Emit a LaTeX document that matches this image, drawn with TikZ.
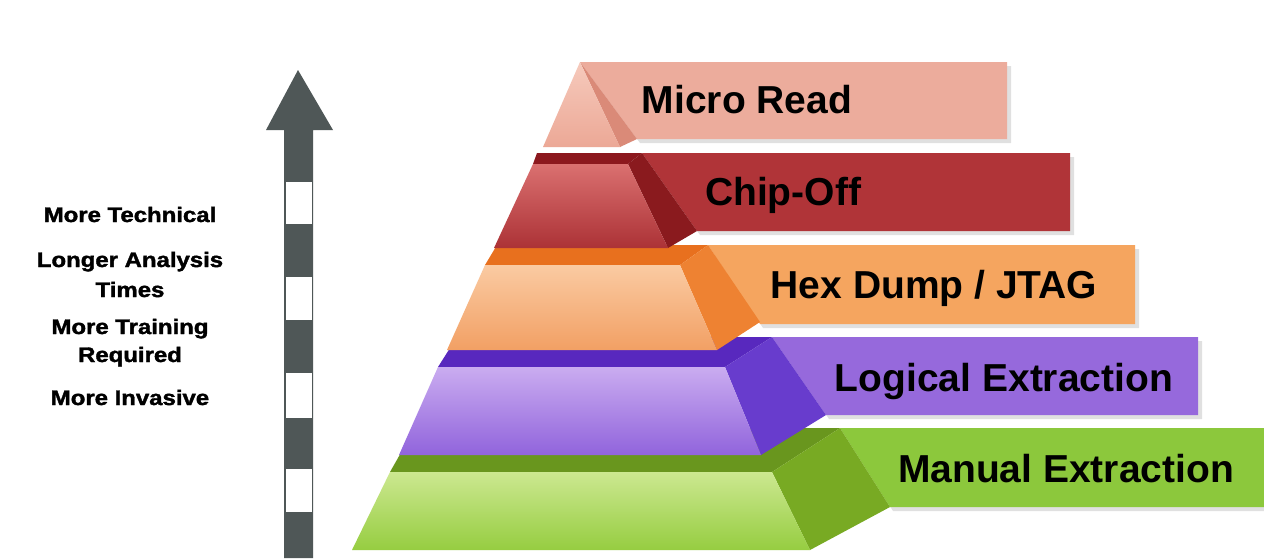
\documentclass[tikz,border=0pt]{standalone}
\usepackage{fontspec}
\setmainfont{Liberation Sans}
\newfontfamily\heavyfont[FakeBold=1.6]{Liberation Sans}
\definecolor{arrowgray}{RGB}{79,87,87}
\definecolor{mrBan}{RGB}{236,172,156}
\definecolor{mrFrT}{RGB}{246,202,188}
\definecolor{mrFrB}{RGB}{236,168,150}
\definecolor{mrSide}{RGB}{218,138,120}
\definecolor{coBan}{RGB}{176,52,56}
\definecolor{coFrT}{RGB}{218,112,112}
\definecolor{coFrB}{RGB}{172,50,54}
\definecolor{coTop}{RGB}{140,24,30}
\definecolor{coSide}{RGB}{138,26,30}
\definecolor{hxBan}{RGB}{245,165,95}
\definecolor{hxFrT}{RGB}{250,202,162}
\definecolor{hxFrB}{RGB}{242,160,100}
\definecolor{hxTop}{RGB}{232,112,30}
\definecolor{hxSide}{RGB}{238,130,50}
\definecolor{leBan}{RGB}{150,105,220}
\definecolor{leFrT}{RGB}{202,172,240}
\definecolor{leFrB}{RGB}{145,100,220}
\definecolor{leTop}{RGB}{88,40,190}
\definecolor{leSide}{RGB}{104,60,205}
\definecolor{meBan}{RGB}{140,200,60}
\definecolor{meFrT}{RGB}{204,232,144}
\definecolor{meFrB}{RGB}{150,205,65}
\definecolor{meTop}{RGB}{105,150,30}
\definecolor{meSide}{RGB}{120,170,35}
\tikzset{
  lbl/.style={font=\fontsize{39}{47}\selectfont\bfseries, inner sep=0pt, anchor=base, text=black},
  lefttxt/.style={font=\heavyfont\fontsize{21}{25}\selectfont\bfseries, inner sep=0pt, anchor=base, text=black},
  bshadow/.style={fill=black, opacity=0.12},
  stripe/.style={fill=white, draw=none},
}
\newcommand{\wide}[1]{\scalebox{1.14}[1]{#1}}
\begin{document}
\begin{tikzpicture}[x=1pt,y=-1pt]
\useasboundingbox (0,0) rectangle (1264,558);
\fill[white] (0,0) rectangle (1264,558);

% ---------- arrow ----------
\fill[arrowgray] (298,70) -- (333,130) -- (313,130) -- (313,558) -- (284,558) -- (284,130) -- (266,130) -- cycle;
\foreach \a/\b in {182/224, 277/320, 373/418, 469/512}{
  \fill[stripe] (285.5,\a) rectangle (311.5,\b);
}

% ---------- left texts ----------
\node[lefttxt] (t1) at (130,222) {\wide{More Technical}};
\node[lefttxt] (t2a) at (130,267) {\wide{Longer Analysis}};
\node[lefttxt] (t2b) at (130,297) {\wide{Times}};
\node[lefttxt] (t3a) at (130,334) {\wide{More Training}};
\node[lefttxt] (t3b) at (130,362) {\wide{Required}};
\node[lefttxt] (t4) at (130,405) {\wide{More Invasive}};

% ---------- green layer : Manual Extraction ----------
\fill[bshadow] (843,432) -- (1264,432) -- (1264,511) -- (893,511) -- cycle;
\fill[meBan] (840,428) -- (1264,428) -- (1264,507) -- (890,507) -- cycle;
\fill[meTop] (390,472) -- (772,472) -- (840,428) -- (415,428) -- cycle;
\fill[meSide] (772,472) -- (840,428) -- (890,507) -- (810,550) -- cycle;
\shade[top color=meFrT, bottom color=meFrB] (390,472) -- (772,472) -- (810,550) -- (352,550) -- cycle;

% ---------- purple layer : Logical Extraction ----------
\fill[bshadow] (775,341) -- (1202,341) -- (1202,419) -- (829,419) -- cycle;
\fill[leBan] (772,337) -- (1198,337) -- (1198,415) -- (826,415) -- cycle;
\fill[leTop] (438,367) -- (725,367) -- (772,337) -- (457,337) -- cycle;
\fill[leSide] (725,367) -- (772,337) -- (826,415) -- (761,455) -- cycle;
\shade[top color=leFrT, bottom color=leFrB] (438,367) -- (725,367) -- (761,455) -- (399,455) -- cycle;

% ---------- orange layer : Hex Dump / JTAG ----------
\fill[bshadow] (711,249) -- (1139,249) -- (1139,328) -- (763,328) -- cycle;
\fill[hxBan] (708,245) -- (1135,245) -- (1135,324) -- (760,324) -- cycle;
\fill[hxTop] (485,265) -- (680,265) -- (708,245) -- (497,245) -- cycle;
\fill[hxSide] (680,265) -- (708,245) -- (760,322) -- (717,350) -- cycle;
\shade[top color=hxFrT, bottom color=hxFrB] (485,265) -- (680,265) -- (717,350) -- (447,350) -- cycle;

% ---------- red layer : Chip-Off ----------
\fill[bshadow] (645,157) -- (1074,157) -- (1074,235) -- (700,235) -- cycle;
\fill[coBan] (642,153) -- (1070,153) -- (1070,231) -- (697,231) -- cycle;
\fill[coTop] (533,164) -- (628,164) -- (642,153) -- (537,153) -- cycle;
\fill[coSide] (628,164) -- (642,153) -- (697,231) -- (668,248) -- cycle;
\shade[top color=coFrT, bottom color=coFrB] (533,164) -- (628,164) -- (668,248) -- (494,248) -- cycle;

% ---------- pink layer : Micro Read ----------
\fill[bshadow] (583,66) -- (1011,66) -- (1011,143) -- (640,143) -- cycle;
\fill[mrBan] (580,62) -- (1007,62) -- (1007,139) -- (637,139) -- cycle;
\fill[mrSide] (580,62) -- (637,139) -- (620,147) -- cycle;
\shade[top color=mrFrT, bottom color=mrFrB] (580,62) -- (620,147) -- (543,147) -- cycle;

% ---------- labels ----------
\node[lbl] (mr) at (747,113) {Micro Read};
\node[lbl] (co) at (783,205) {Chip-Off};
\node[lbl] (hx) at (934,298) {Hex Dump / JTAG};
\node[lbl] (le) at (1004,391) {Logical Extraction};
\node[lbl] (me) at (1066,482) {Manual Extraction};
\end{tikzpicture}
\end{document}
